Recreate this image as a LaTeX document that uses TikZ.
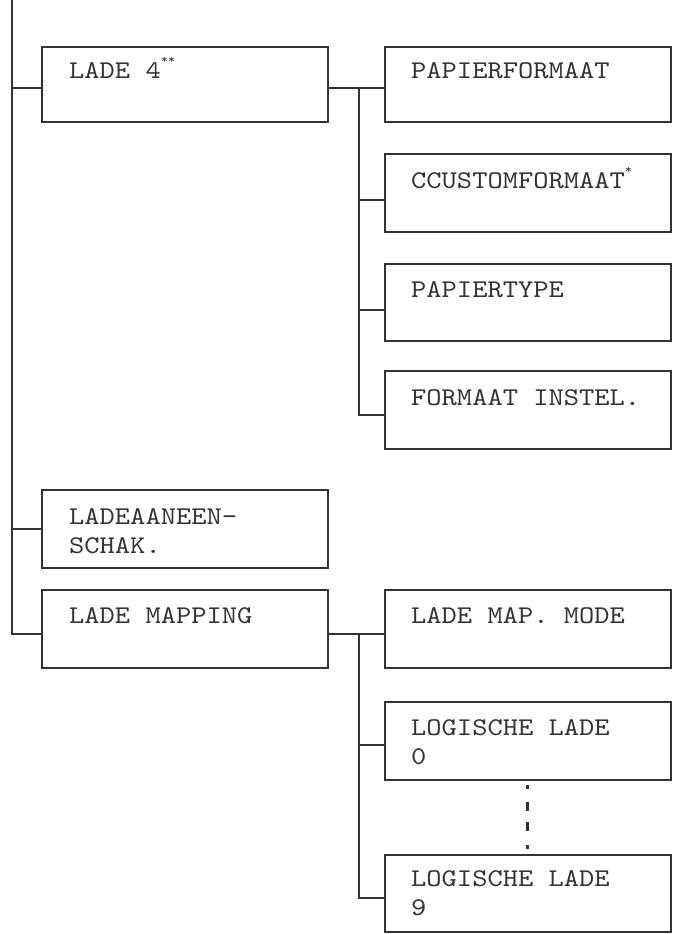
\documentclass[tikz,border=0pt]{standalone}
\usepackage{fontspec}
\newfontfamily\boxfont{lmmono10-regular.otf}[FakeStretch=1.14]
\begin{document}
\begin{tikzpicture}[x=1pt,y=-1pt]
\tikzset{
  menubox/.style={draw=black!80, line width=1.9pt, rectangle, inner sep=0pt, anchor=north west, minimum width=286pt},
  menutext/.style={anchor=base west, inner sep=0pt, font=\boxfont\fontsize{25.5}{29}\selectfont, text=black!80, align=left},
  wire/.style={draw=black!80, line width=1.9pt},
  dotmark/.style={fill=black!80}
}
\newcommand{\supast}[1]{\raisebox{0.55em}{\fontsize{12}{12}\selectfont #1}}
\useasboundingbox (0,0) rectangle (676,934);

% boxes
\node[menubox, minimum height=75pt] (l4) at (41,46) {};
\node[menubox, minimum height=75pt] (pf) at (384,46) {};
\node[menubox, minimum height=78pt] (cc) at (384,153) {};
\node[menubox, minimum height=77pt] (pt) at (384,263) {};
\node[menubox, minimum height=78pt] (fi) at (384,370) {};
\node[menubox, minimum height=78pt] (la) at (41,489) {};
\node[menubox, minimum height=78pt] (lm) at (41,589) {};
\node[menubox, minimum height=78pt] (mm) at (384,589) {};
\node[menubox, minimum height=78pt] (l0) at (384,701) {};
\node[menubox, minimum height=77pt] (l9) at (384,854) {};

% texts (base anchor of a two-line node is the baseline of its last line)
\node[menutext] (tl4) at ([shift={(28pt,-32pt)}]l4.north west) {LADE 4\supast{**}};
\node[menutext] (tpf) at ([shift={(27pt,-32pt)}]pf.north west) {PAPIERFORMAAT};
\node[menutext] (tcc) at ([shift={(27pt,-35pt)}]cc.north west) {CCUSTOMFORMAAT\supast{*}};
\node[menutext] (tpt) at ([shift={(27pt,-34pt)}]pt.north west) {PAPIERTYPE};
\node[menutext] (tfi) at ([shift={(27pt,-35pt)}]fi.north west) {FORMAAT INSTEL.};
\node[menutext] (tla) at ([shift={(28pt,-64pt)}]la.north west) {LADEAANEEN-\\SCHAK.};
\node[menutext] (tlm) at ([shift={(28pt,-34pt)}]lm.north west) {LADE MAPPING};
\node[menutext] (tmm) at ([shift={(27pt,-34pt)}]mm.north west) {LADE MAP. MODE};
\node[menutext] (tl0) at ([shift={(27pt,-63pt)}]l0.north west) {LOGISCHE LADE\\0};
\node[menutext] (tl9) at ([shift={(27pt,-61pt)}]l9.north west) {LOGISCHE LADE\\9};

% trunk
\coordinate (trunk) at (12,0);
\draw[wire] (trunk) |- ([yshift=-3.5pt]l4.west);
\draw[wire] (trunk) |- (la.west);
\draw[wire] (trunk) |- ([yshift=-5pt]lm.west);

% branch 1
\coordinate (b1) at (359,87);
\draw[wire] ([yshift=-3.5pt]l4.east) -- ([yshift=-3.5pt]pf.west);
\draw[wire] (b1) |- ([yshift=-7pt]cc.west);
\draw[wire] (b1) |- ([yshift=-7.5pt]pt.west);
\draw[wire] (b1) |- ([yshift=-5pt]fi.west);

% branch 2
\coordinate (b2) at (359,633);
\draw[wire] ([yshift=-5pt]lm.east) -- ([yshift=-5pt]mm.west);
\draw[wire] (b2) |- ([yshift=-4pt]l0.west);
\draw[wire] (b2) |- ([yshift=-4.5pt]l9.west);

% vertical ellipsis
\fill[dotmark] (525.5,785) rectangle (528.5,788.5);
\fill[dotmark] (525.5,802) rectangle (528.5,811);
\fill[dotmark] (525.5,822) rectangle (528.5,831);
\fill[dotmark] (525.5,845) rectangle (528.5,848.5);
\end{tikzpicture}
\end{document}
